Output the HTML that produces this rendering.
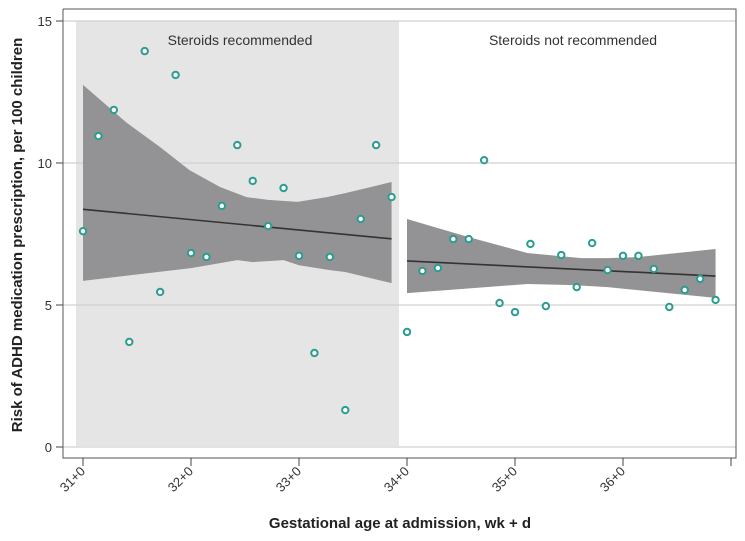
<!DOCTYPE html>
<html><head><meta charset="utf-8"><style>
body{margin:0;background:#fff;}
svg{display:block;font-family:"Liberation Sans",sans-serif;}
</style></head><body>
<svg id="c" width="745" height="541" xmlns="http://www.w3.org/2000/svg"></svg>
<script>
const days=[0,1,2,3,4,5,6,7,8,9,10,11,12,13,14,15,16,17,18,19,20,21,22,23,24,25,26,27,28,29,30,31,32,33,34,35,36,37,38,39,40,41];
const risk=[7.6,10.95,11.87,3.7,13.94,5.46,13.1,6.83,6.69,8.49,10.63,9.37,7.78,9.12,6.73,3.31,6.69,1.3,8.03,10.63,8.8,4.05,6.2,6.3,7.32,7.32,10.1,5.07,4.75,7.15,4.96,6.76,5.63,7.18,6.23,6.73,6.73,6.27,4.93,5.53,5.92,5.18];
const fitLeft=[[0,8.37],[20,7.33]];
const fitRight=[[21,6.55],[41,6.02]];
const ciLeftUpper=[[0,12.75],[2.85,11.41],[5,10.56],[6.9,9.75],[8.9,9.15],[10.6,8.8],[12,8.7],[13.9,8.63],[15.8,8.8],[17,8.94],[20,9.33]];
const ciLeftLower=[[0,5.85],[7,6.3],[10,6.58],[11,6.51],[13,6.58],[14,6.4],[16,6.23],[17,6.16],[20,5.77]];
const ciRightUpper=[[21,8.03],[25,7.39],[28.8,6.83],[32.3,6.65],[34,6.65],[36,6.69],[41,6.97]];
const ciRightLower=[[21,5.42],[28.8,5.74],[31.8,5.7],[34,5.63],[41,5.25]];
const yTicks=[0,5,10,15];
const xTickLabels=["31+0","32+0","33+0","34+0","35+0","36+0"];

const NS="http://www.w3.org/2000/svg";
const svg=document.getElementById('c');
const X=d=>83+d*108/7;
const Y=v=>447-v*28.4;
function mk(t,a,p){const e=document.createElementNS(NS,t);for(const k in a)e.setAttribute(k,a[k]);(p||svg).appendChild(e);return e;}

let e;
// shaded region
e=mk('rect',{x:76,y:21,width:323,height:425,fill:'#e5e5e5'});


// gridlines
yTicks.forEach(v=>{
  e=mk('line',{x1:63,x2:736,y1:Y(v),y2:Y(v),stroke:'#d0d0d0','stroke-width':1.2});
  
  
  e=mk('line',{x1:56,x2:63,y1:Y(v),y2:Y(v),stroke:'#444','stroke-width':1});
  
  
  e=mk('text',{x:52,y:Y(v)+5,'text-anchor':'end','font-size':13,fill:'#333'});
  e.textContent=v;
  
  
});
// CI bands
function band(u,l,name){
  const pts=u.map(p=>X(p[0])+','+Y(p[1])).concat(l.slice().reverse().map(p=>X(p[0])+','+Y(p[1])));
  e=mk('polygon',{points:pts.join(' '),fill:'#939395'});
  
  
}
band(ciLeftUpper,ciLeftLower,'ci-band-recommended');
band(ciRightUpper,ciRightLower,'ci-band-not-recommended');
[[fitLeft,'fit-line-recommended'],[fitRight,'fit-line-not-recommended']].forEach(([f,n])=>{
  e=mk('line',{x1:X(f[0][0]),y1:Y(f[0][1]),x2:X(f[1][0]),y2:Y(f[1][1]),stroke:'#333','stroke-width':1.6});
  
  
});
// points
days.forEach((d,i)=>{
  e=mk('circle',{cx:X(d),cy:Y(risk[i]),r:3.2,fill:'#fff',stroke:'#2a9d8f','stroke-width':2});
  
  
});
// frame
e=mk('polyline',{points:'63,9 736,9 736,458 63,458 63,9',fill:'none',stroke:'#555','stroke-width':1});


// x ticks
for(let w=0;w<=6;w++){
  e=mk('line',{x1:X(w*7),x2:X(w*7),y1:458,y2:466,stroke:'#444','stroke-width':1});
  
  
}
xTickLabels.forEach((t,w)=>{
  const x=X(w*7)+3,y=472;
  e=mk('text',{x:x,y:y,'text-anchor':'end','font-size':13,fill:'#333',transform:`rotate(-45 ${x} ${y})`});
  e.textContent=t;
  
  
});
// annotations
e=mk('text',{x:240,y:45,'text-anchor':'middle','font-size':14,fill:'#333'});
e.textContent='Steroids recommended';


e=mk('text',{x:573,y:45,'text-anchor':'middle','font-size':14,fill:'#333'});
e.textContent='Steroids not recommended';


// axis titles
e=mk('text',{x:400,y:528,'text-anchor':'middle','font-size':15,'font-weight':'bold',fill:'#222'});
e.textContent='Gestational age at admission, wk + d';


e=mk('text',{x:22,y:235,'text-anchor':'middle','font-size':15,'font-weight':'bold',fill:'#222',transform:'rotate(-90 22 235)'});
e.textContent='Risk of ADHD medication prescription, per 100 children';


</script>
</body></html>
